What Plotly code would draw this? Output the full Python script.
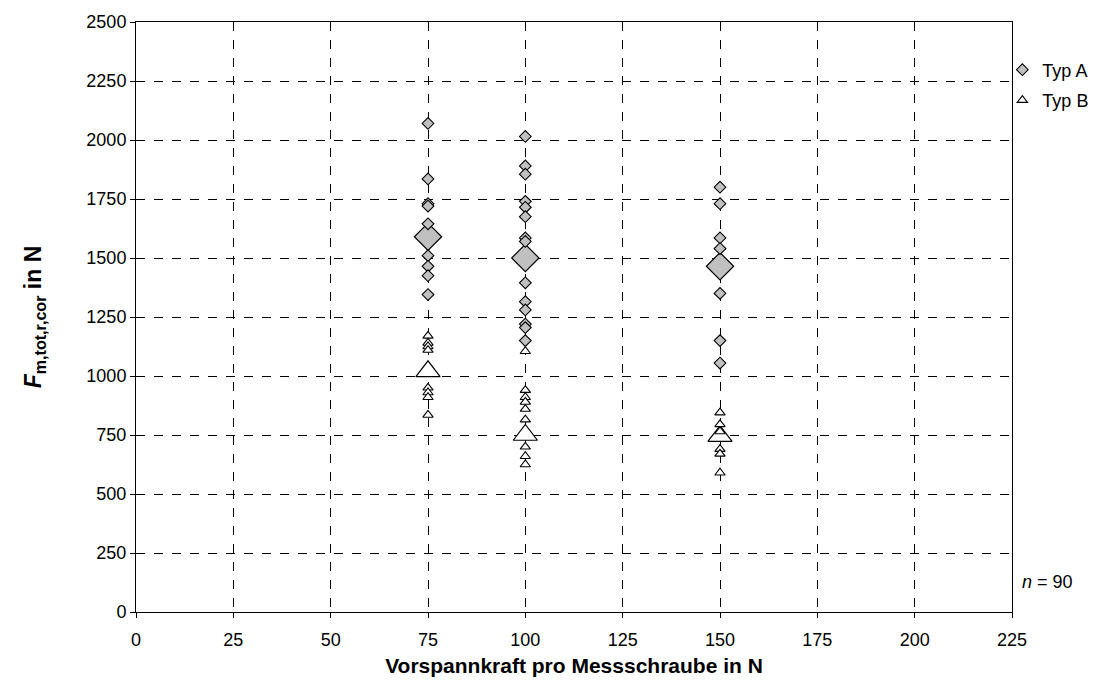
import plotly.graph_objects as go

# Data
typA_75 = [2070, 1835, 1730, 1720, 1645, 1510, 1465, 1425, 1345]
typA_100 = [2015, 1890, 1855, 1740, 1715, 1675, 1585, 1570, 1395, 1315, 1280, 1220, 1205, 1150]
typA_150 = [1800, 1730, 1585, 1540, 1350, 1150, 1055]
typB_75 = [1170, 1140, 1125, 1110, 950, 930, 910, 835]
typB_100 = [1105, 940, 910, 890, 860, 815, 700, 660, 625]
typB_150 = [845, 795, 765, 690, 670, 590]
mean_x = [75, 100, 150]
mean_A = [1590, 1500, 1465]
mean_B = [1020, 750, 745]

xa = [75] * len(typA_75) + [100] * len(typA_100) + [150] * len(typA_150)
ya = typA_75 + typA_100 + typA_150
xb = [75] * len(typB_75) + [100] * len(typB_100) + [150] * len(typB_150)
yb = typB_75 + typB_100 + typB_150

FONT = "Arial, Liberation Sans, sans-serif"
fig = go.Figure()
fig.add_trace(go.Scatter(x=mean_x, y=mean_A, mode="markers", showlegend=False,
                         marker=dict(symbol="diamond", size=21, color="#C0C0C0",
                                     line=dict(color="black", width=1.2))))
fig.add_trace(go.Scatter(x=mean_x, y=mean_B, mode="markers", showlegend=False,
                         marker=dict(symbol="triangle-up", size=21, color="white",
                                     line=dict(color="black", width=1.2))))
fig.add_trace(go.Scatter(x=xa, y=ya, mode="markers", name="Typ A", legendgroup="a",
                         marker=dict(symbol="diamond", size=9, color="#C0C0C0",
                                     line=dict(color="black", width=1.1))))
fig.add_trace(go.Scatter(x=xb, y=yb, mode="markers", name="Typ B", legendgroup="b",
                         marker=dict(symbol="triangle-up", size=9, color="white",
                                     line=dict(color="black", width=1.1))))

axis_common = dict(showline=True, linecolor="black", linewidth=1, mirror=True,
                   showgrid=True, gridcolor="black", gridwidth=1, griddash="dash",
                   zeroline=False, ticks="outside", ticklen=5, tickcolor="black",
                   automargin=False,
                   tickfont=dict(family=FONT, size=18, color="black"))
fig.update_xaxes(range=[0, 225], dtick=25, tick0=0, ticklabelstandoff=6,
                 title=dict(text="<b>Vorspannkraft pro Messschraube in N</b>",
                            font=dict(family=FONT, size=21, color="black"), standoff=9),
                 **axis_common)
fig.update_yaxes(range=[0, 2500], dtick=250, tick0=0,
                 title=dict(text="<b><i>F</i><sub>m,tot,r,cor</sub> in N</b>",
                            font=dict(family=FONT, size=23, color="black"), standoff=38),
                 **axis_common)

fig.add_annotation(text="<i>n</i> = 90", xref="paper", yref="paper", x=1.0, y=0.051,
                   xanchor="left", yanchor="middle", xshift=8, showarrow=False,
                   font=dict(family=FONT, size=18, color="black"))

fig.update_layout(
    width=1114, height=684,
    margin=dict(l=136, r=102, t=22, b=72, autoexpand=False),
    plot_bgcolor="white", paper_bgcolor="white",
    legend=dict(x=0.989, y=0.95, xanchor="left", yanchor="top", xref="paper",
                font=dict(family=FONT, size=18, color="black"),
                bgcolor="rgba(0,0,0,0)", itemwidth=30, tracegroupgap=4),
)
fig.write_html("out.html")
